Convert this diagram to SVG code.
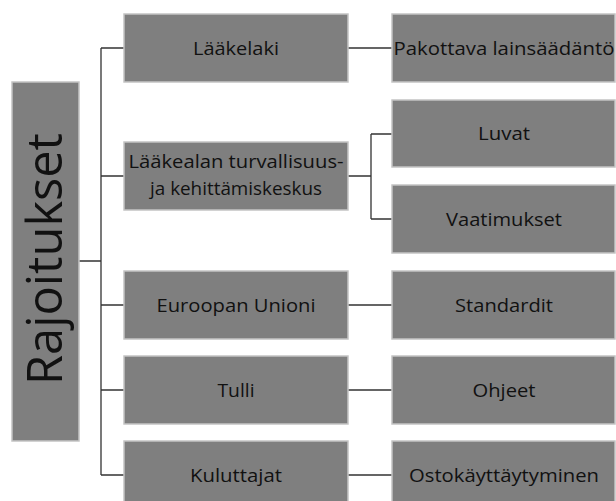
<svg xmlns="http://www.w3.org/2000/svg" width="616" height="501" viewBox="0 0 616 501">
<style>
.box{fill:#7f7f7f;stroke:#c4c4c4;stroke-width:1.5}
.t{font-family:"Open Sans","Noto Sans","Liberation Sans",sans-serif;font-size:19px;fill:#111;text-anchor:middle}
.root{font-family:"Open Sans","Noto Sans","Liberation Sans",sans-serif;font-size:50px;fill:#111;text-anchor:middle}
.c{fill:none;stroke:#333;stroke-width:1.3}
</style>
<rect width="616" height="501" fill="#fff"/>
<g id="connectors">
<path class="c" d="M79 261H101M101 48V475M101 48H124M101 176H124M101 305H124M101 390H124M101 475H124"/>
<path class="c" d="M348 48H392M348 305H392M348 390H392M348 475H392"/>
<path class="c" d="M348 176H371M371 134V219M371 134H392M371 219H392"/>
</g>
<g id="root">
<rect class="box" x="12" y="82" width="67" height="359"/>
<text class="root" transform="translate(62 259) rotate(-90)" textLength="252" lengthAdjust="spacingAndGlyphs">Rajoitukset</text>
</g>
<g id="laakelaki">
<rect class="box" x="124" y="14" width="224" height="68"/>
<text class="t" x="236" y="55" textLength="86" lengthAdjust="spacingAndGlyphs">Lääkelaki</text>
</g>
<g id="fimea">
<rect class="box" x="124" y="142" width="224" height="68"/>
<text class="t" x="236" y="168" textLength="215" lengthAdjust="spacingAndGlyphs">Lääkealan turvallisuus-</text>
<text class="t" x="236" y="195" textLength="172" lengthAdjust="spacingAndGlyphs">ja kehittämiskeskus</text>
</g>
<g id="eu">
<rect class="box" x="124" y="271" width="224" height="68"/>
<text class="t" x="236" y="312" textLength="159" lengthAdjust="spacingAndGlyphs">Euroopan Unioni</text>
</g>
<g id="tulli">
<rect class="box" x="124" y="356" width="224" height="68"/>
<text class="t" x="236" y="397" textLength="37" lengthAdjust="spacingAndGlyphs">Tulli</text>
</g>
<g id="kuluttajat">
<rect class="box" x="124" y="441" width="224" height="68"/>
<text class="t" x="236" y="482" textLength="92" lengthAdjust="spacingAndGlyphs">Kuluttajat</text>
</g>
<g id="pakottava">
<rect class="box" x="392" y="14" width="223" height="68"/>
<text class="t" x="504" y="55" textLength="221" lengthAdjust="spacingAndGlyphs">Pakottava lainsäädäntö</text>
</g>
<g id="luvat">
<rect class="box" x="392" y="100" width="223" height="67"/>
<text class="t" x="504" y="140" textLength="52" lengthAdjust="spacingAndGlyphs">Luvat</text>
</g>
<g id="vaatimukset">
<rect class="box" x="392" y="185" width="223" height="68"/>
<text class="t" x="504" y="226" textLength="116" lengthAdjust="spacingAndGlyphs">Vaatimukset</text>
</g>
<g id="standardit">
<rect class="box" x="392" y="271" width="223" height="68"/>
<text class="t" x="504" y="312" textLength="98" lengthAdjust="spacingAndGlyphs">Standardit</text>
</g>
<g id="ohjeet">
<rect class="box" x="392" y="356" width="223" height="68"/>
<text class="t" x="504" y="397" textLength="63" lengthAdjust="spacingAndGlyphs">Ohjeet</text>
</g>
<g id="ostokayttaytyminen">
<rect class="box" x="392" y="441" width="223" height="68"/>
<text class="t" x="504" y="482" textLength="190" lengthAdjust="spacingAndGlyphs">Ostokäyttäytyminen</text>
</g>
</svg>
